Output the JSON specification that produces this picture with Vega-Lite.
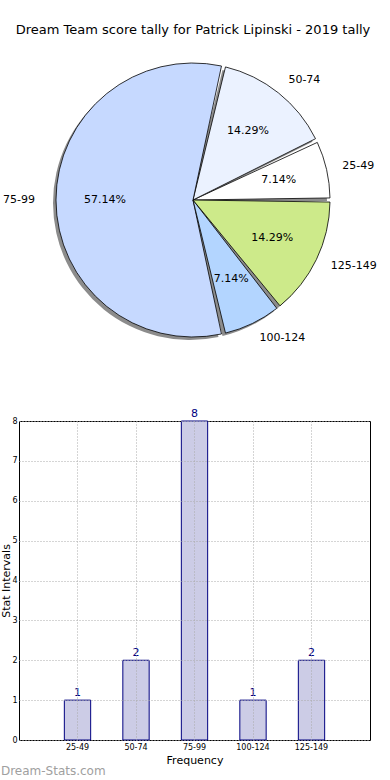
{
  "$schema": "https://vega.github.io/schema/vega-lite/v6.json",
  "padding": {"top": 24, "left": 0, "right": 0, "bottom": 0},
  "background": "white",
  "config": {"font": "DejaVu Sans", "view": {"stroke": null}},
  "datasets": {
    "tally": [
      {"cat": "25-49", "count": 1, "ord": 1, "pct": "7.14%"},
      {"cat": "50-74", "count": 2, "ord": 2, "pct": "14.29%"},
      {"cat": "75-99", "count": 8, "ord": 3, "pct": "57.14%"},
      {"cat": "100-124", "count": 1, "ord": 4, "pct": "7.14%"},
      {"cat": "125-149", "count": 2, "ord": 5, "pct": "14.29%"}
    ]
  },
  "spacing": 57,
  "vconcat": [
    {
      "width": 348,
      "height": 300,
      "data": {"name": "tally"},
      "view": {"stroke": null},
      "title": {"text": "Dream Team score tally for Patrick Lipinski - 2019 tally", "fontSize": 13, "fontWeight": "normal", "font": "DejaVu Sans", "anchor": "middle", "offset": 13, "color": "black"},
      "encoding": {
        "theta": {"field": "count", "type": "quantitative", "stack": true, "scale": {"range": [1.5707963, -4.712389]}},
        "order": {"field": "ord", "type": "quantitative"}
      },
      "layer": [
        {
          "mark": {"type": "arc", "radius": 137, "padAngle": 0.03, "fill": "#8c8c8c", "xOffset": -3, "yOffset": 3}
        },
        {
          "mark": {"type": "arc", "radius": 137, "padAngle": 0.03, "stroke": "black", "strokeWidth": 0.8, "opacity": 1},
          "encoding": {
            "color": {"field": "cat", "type": "nominal", "legend": null,
              "scale": {"domain": ["25-49", "50-74", "75-99", "100-124", "125-149"],
                        "range": ["#ffffff", "#ebf2ff", "#c6d9ff", "#b3d5ff", "#cdea8a"]}}
          }
        },
        {
          "mark": {"type": "text", "radius": 88, "fontSize": 11, "color": "black"},
          "encoding": {"text": {"field": "pct", "type": "nominal"}}
        },
        {
          "mark": {"type": "text", "radius": 153, "fontSize": 11, "color": "black", "align": "left", "baseline": "middle"},
          "encoding": {"text": {"condition": {"test": "datum.cat !== '75-99'", "field": "cat", "type": "nominal"}, "value": ""}}
        },
        {
          "mark": {"type": "text", "radius": 158, "fontSize": 11, "color": "black", "align": "right", "baseline": "middle"},
          "encoding": {"text": {"condition": {"test": "datum.cat === '75-99'", "field": "cat", "type": "nominal"}, "value": ""}}
        }
      ]
    },
    {
      "width": 351,
      "height": 319,
      "data": {"name": "tally"},
      "view": {"stroke": "black", "strokeWidth": 1},
      "title": {"text": "Dream-Stats.com", "orient": "bottom", "anchor": "start", "frame": "bounds", "fontSize": 12, "color": "#a0a0a0", "fontWeight": "normal", "offset": 1},
      "encoding": {
        "x": {"field": "cat", "type": "nominal", "sort": ["25-49", "50-74", "75-99", "100-124", "125-149"],
          "scale": {"paddingInner": 0.55, "paddingOuter": 0.775},
          "axis": {"title": "Frequency", "titleFontSize": 11, "titleFontWeight": "normal", "titleColor": "black", "titlePadding": 3,
                   "labelAngle": 0, "labelFontSize": 8, "labelColor": "black", "labelPadding": 3,
                   "ticks": false, "domain": false, "grid": true, "gridColor": "#aaaaaa", "gridDash": [1, 2], "gridWidth": 1, "zindex": 1}},
        "y": {"field": "count", "type": "quantitative", "scale": {"domain": [0, 8], "nice": false},
          "axis": {"title": "Stat Intervals", "titleFontSize": 11, "titleFontWeight": "normal", "titleColor": "black", "titlePadding": 0,
                   "values": [0, 1, 2, 3, 4, 5, 6, 7, 8], "format": "d", "labelFontSize": 8, "labelColor": "black", "labelPadding": 2,
                   "ticks": false, "domain": false, "grid": true, "gridColor": "#aaaaaa", "gridDash": [1, 2], "gridWidth": 1, "zindex": 1}}
      },
      "layer": [
        {"mark": {"type": "bar", "fill": "#ccccE6", "stroke": "#000080", "strokeWidth": 1}},
        {"mark": {"type": "text", "baseline": "bottom", "dy": -2, "fontSize": 11, "color": "#000080"},
         "encoding": {"text": {"field": "count", "type": "quantitative"}}}
      ]
    }
  ]
}
